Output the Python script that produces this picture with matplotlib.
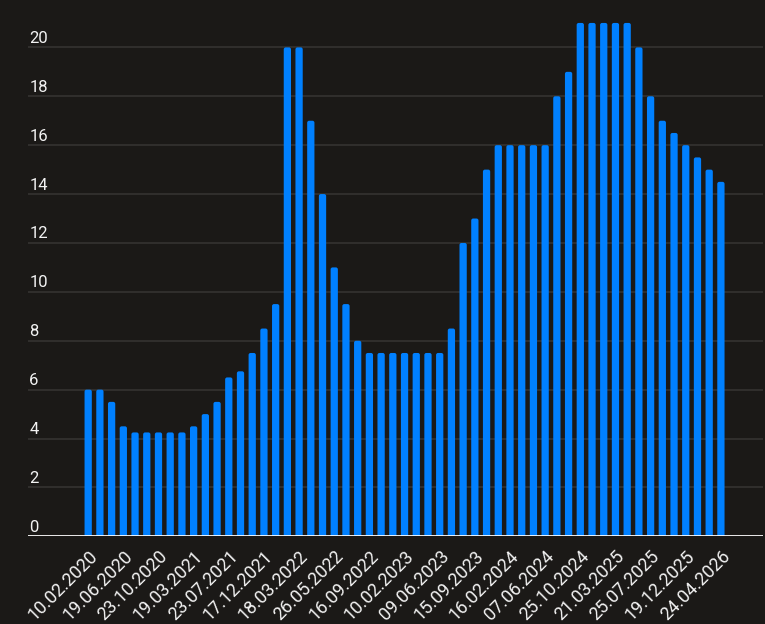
import matplotlib
matplotlib.use("Agg")
import matplotlib.pyplot as plt
import matplotlib.transforms as mtransforms
from matplotlib.patches import FancyBboxPatch
import numpy as np

# bar heights, one per period
values = [6, 6, 5.5, 4.5, 4.25, 4.25, 4.25, 4.25, 4.25, 4.5,
          5, 5.5, 6.5, 6.75, 7.5, 8.5, 9.5, 20, 20, 17,
          14, 11, 9.5, 8, 7.5, 7.5, 7.5, 7.5, 7.5, 7.5,
          7.5, 8.5, 12, 13, 15, 16, 16, 16, 16, 16,
          18, 19, 21, 21, 21, 21, 21, 20, 18, 17,
          16.5, 16, 15.5, 15, 14.5]

# every third bar carries a date label
date_labels = ["10.02.2020", "19.06.2020", "23.10.2020", "19.03.2021",
               "23.07.2021", "17.12.2021", "18.03.2022", "26.05.2022",
               "16.09.2022", "10.02.2023", "09.06.2023", "15.09.2023",
               "16.02.2024", "07.06.2024", "25.10.2024", "21.03.2025",
               "25.07.2025", "19.12.2025", "24.04.2026"]
label_step = 3

y_ticks = [0, 2, 4, 6, 8, 10, 12, 14, 16, 18, 20]

bg = "#1b1917"
bar_color = "#0080ff"
text_color = "#f2f2f2"
grid_color = "#353331"

plt.rcParams["font.family"] = ["Roboto", "DejaVu Sans"]

fig = plt.figure(figsize=(7.65, 6.24), dpi=100, facecolor=bg)
ax = fig.add_axes([0.037, 0.1405, 0.9605, 0.8435])
ax.set_facecolor(bg)

ax.set_xlim(-5.11, 57.6)
ax.set_ylim(0, 21.53)

x = np.arange(len(values))
bars = ax.bar(x, values, width=0.62, color=bar_color, zorder=3)

# swap the plain rectangles for ones with slightly rounded tops
for b in bars:
    rb = FancyBboxPatch((b.get_x(), -0.3), b.get_width(), b.get_height() + 0.3,
                        boxstyle="round,pad=0,rounding_size=0.17",
                        mutation_aspect=0.48, facecolor=bar_color,
                        edgecolor="none", zorder=3)
    ax.add_patch(rb)
    b.remove()

# grid lines
for t in y_ticks[1:]:
    ax.axhline(t, color=grid_color, lw=1.2, zorder=1)
ax.axhline(0, color="white", lw=2, zorder=4)

# y labels sit just above their grid line, inside the plot
offset = mtransforms.ScaledTranslation(1 / 100, 1.5 / 100, fig.dpi_scale_trans)
trans = mtransforms.blended_transform_factory(ax.transAxes, ax.transData) + offset
for t in y_ticks:
    ax.text(0, t, str(t), transform=trans, ha="left", va="bottom",
            color=text_color, fontsize=12)

ax.set_yticks([])
ax.set_xticks(x[::label_step], date_labels, rotation=45, ha="right",
              rotation_mode="anchor", color=text_color, fontsize=13)
ax.tick_params(axis="x", length=0, pad=8)

for s in ax.spines.values():
    s.set_visible(False)

fig.savefig("out.png", dpi=100, facecolor=bg)
